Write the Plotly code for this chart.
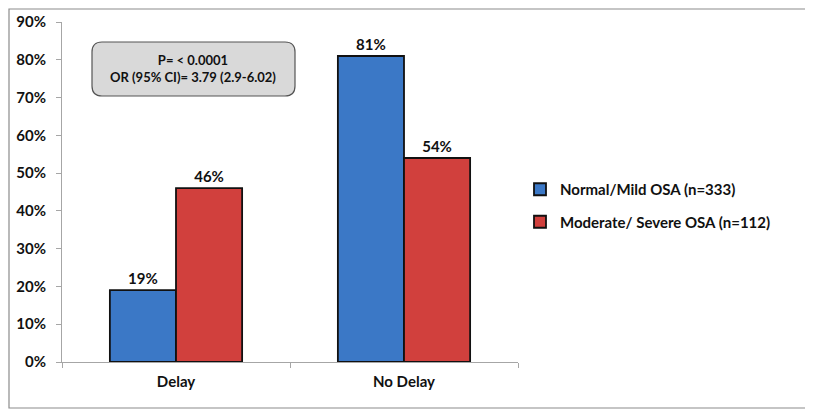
import plotly.graph_objects as go

categories = ["Delay", "No Delay"]
normal_mild = [0.19, 0.81]
mod_severe = [0.46, 0.54]
series_names = ["Normal/Mild OSA (n=333)", "Moderate/ Severe OSA (n=112)"]
tick_vals = [0, 0.1, 0.2, 0.3, 0.4, 0.5, 0.6, 0.7, 0.8, 0.9]
tick_text = ["0%", "10%", "20%", "30%", "40%", "50%", "60%", "70%", "80%", "90%"]
box_lines = ["P= < 0.0001", "OR (95% CI)= 3.79 (2.9-6.02)"]

FONT = "Lato"
OFF = 8  # page body margin
fig = go.Figure()
for i, (name, vals, col) in enumerate([(series_names[0], normal_mild, "#3b78c6"),
                                       (series_names[1], mod_severe, "#d1403d")]):
    fig.add_trace(go.Bar(
        x=categories, y=vals, name="<b>" + name + "</b>", legendgroup=f"g{i}",
        marker=dict(color=col, line=dict(color="#111111", width=1.8)),
        text=[f"{round(v*100)}%" for v in vals],
        texttemplate="<b>%{text}</b>",
        textposition="outside", cliponaxis=False,
        textfont=dict(family=FONT, size=15, color="#111111"),
    ))

W, H = 813 - OFF, 414 - OFF
L, R, T, B = 62, 518, 22, 362  # screen coords of plot area
pw, ph = R - L, B - T

def px(x):
    return (x - L) / pw

def py(y):
    return (B - y) / ph

# outer frame (kept inside the figure)
fig.add_shape(type="rect", xref="paper", yref="paper",
              x0=px(OFF + 1), x1=px(807), y0=py(408), y1=py(OFF + 1),
              line=dict(color="#8c8c8c", width=1.2), layer="below")

# rounded box
x0, x1, y0, y1 = px(92), px(295), py(96), py(42)
rx, ry = 10 / pw, 10 / ph
path = (f"M {x0+rx},{y1} L {x1-rx},{y1} Q {x1},{y1} {x1},{y1-ry} "
        f"L {x1},{y0+ry} Q {x1},{y0} {x1-rx},{y0} L {x0+rx},{y0} "
        f"Q {x0},{y0} {x0},{y0+ry} L {x0},{y1-ry} Q {x0},{y1} {x0+rx},{y1} Z")
fig.add_shape(type="path", xref="paper", yref="paper", path=path,
              fillcolor="#d9d9d9", line=dict(color="#555555", width=1.2))
fig.add_annotation(xref="paper", yref="paper", x=px(193), y=py(69),
                   xanchor="center", yanchor="middle",
                   text="<b>" + box_lines[0] + "</b><br><b>" + box_lines[1] + "</b>",
                   showarrow=False, align="center",
                   font=dict(family=FONT, size=13, color="#111111"))

fig.update_layout(
    width=W, height=H,
    margin=dict(l=L - OFF, r=W - (R - OFF), t=T - OFF, b=H - (B - OFF), pad=0,
                autoexpand=False),
    paper_bgcolor="white", plot_bgcolor="white",
    barmode="group", bargap=0.42, bargroupgap=0,
    showlegend=True,
    legend=dict(x=px(520), y=py(173), xanchor="left", yanchor="top",
                font=dict(family=FONT, size=15, color="#111111"),
                tracegroupgap=10, itemwidth=30),
    font=dict(family=FONT, color="#111111"),
    yaxis=dict(range=[0, 0.9], tickvals=tick_vals, automargin=False,
               ticktext=["<b>" + t + "</b>" for t in tick_text],
               showgrid=False, zeroline=False, showline=True,
               linecolor="#a6a6a6", linewidth=1, ticks="outside",
               ticklen=5, tickcolor="#a6a6a6", ticklabelstandoff=7,
               tickfont=dict(family=FONT, size=15, color="#111111")),
    xaxis=dict(showgrid=False, showline=True, linecolor="#a6a6a6",
               linewidth=1, ticks="outside", tickson="boundaries",
               ticklen=5, tickcolor="#a6a6a6", automargin=False,
               ticklabelstandoff=6,
               tickvals=categories,
               ticktext=["<b>" + c + "</b>" for c in categories],
               tickfont=dict(family=FONT, size=15, color="#111111")),
)
fig.write_html("out.html")
